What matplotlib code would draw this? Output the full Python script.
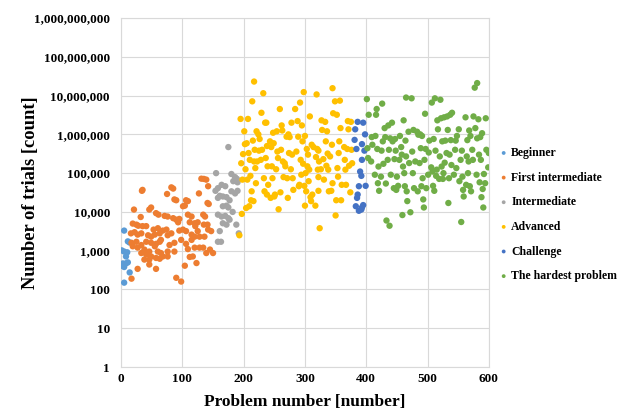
import matplotlib
matplotlib.use("Agg")
import matplotlib.pyplot as plt
from matplotlib.ticker import FuncFormatter, LogLocator, NullLocator

# ---- data: (problem number, number of trials) ----
beginner_x = [5, 11, 14, 1, 5, 10, 8, 3, 8, 11, 1, 5, 14, 5]
beginner_y = [3300, 1740, 1620, 1020, 950, 910, 710, 470, 470, 500, 410, 380, 275, 150]

first_x = [35, 34, 82, 85, 75, 87, 90, 106, 109, 101, 104, 131, 135, 139, 142, 127, 141, 143,
           49, 46, 21, 57, 61, 71, 76, 90, 95, 93, 85, 109, 115, 112, 120, 125, 121, 134, 137,
           135, 141, 19, 25, 28, 35, 41, 32, 53, 60, 68, 74, 16, 22, 27, 33, 44, 49, 55, 63, 65,
           76, 82, 95, 101, 106, 115, 120, 125, 142, 147, 17, 25, 33, 41, 49, 57, 63, 79, 87, 98,
           106, 115, 128, 136, 19, 27, 38, 46, 55, 60, 65, 76, 87, 109, 120, 128, 134, 139, 145,
           33, 41, 49, 57, 68, 76, 38, 46, 63, 112, 117, 123, 150, 27, 46, 57, 104, 17, 90, 98]
first_y = [37000, 35000, 43000, 40000, 29000, 21000, 20000, 20000, 19000, 14000, 14500, 72000,
           71000, 68000, 46000, 30000, 17000, 16000, 13000, 11500, 11500, 9300, 8500, 7900, 7600,
           6300, 6600, 5400, 6900, 8500, 7600, 5400, 5100, 5400, 4300, 8500, 7600, 4700, 4700,
           5000, 4700, 4400, 4300, 4300, 7400, 3500, 3800, 3300, 3500, 2800, 3000, 2600, 2800,
           2500, 2300, 2600, 2800, 1900, 2500, 2800, 3300, 3500, 3200, 2600, 2300, 3200, 3500,
           3200, 1600, 1700, 1400, 1700, 1600, 1500, 1700, 1400, 1600, 1900, 1500, 1900, 2300,
           2300, 1300, 1200, 1070, 950, 1300, 950, 870, 950, 950, 1100, 1200, 1200, 1200, 870,
           1070, 870, 800, 710, 650, 710, 710, 590, 590, 620, 690, 710, 480, 870, 340, 440, 340,
           410, 190, 200, 160]

inter_x = [175, 155, 180, 186, 189, 183, 190, 164, 170, 158, 154, 180, 186, 190, 161, 158, 166,
           172, 177, 166, 172, 175, 182, 158, 164, 170, 175, 166, 172, 177, 188, 161, 158, 163, 192]
inter_y = [470000, 100000, 95000, 79000, 71000, 62000, 58000, 50000, 46000, 41000, 35000, 34000,
           30000, 35000, 26000, 23000, 25000, 24000, 20000, 14000, 14500, 13000, 10000, 8500, 7600,
           7900, 6900, 5100, 4700, 6300, 4700, 3200, 1700, 1700, 2800]

adv_x = [217, 232, 214, 298, 319, 345, 349, 357, 292, 259, 284, 229, 308, 346, 352, 327, 333, 195,
         207, 235, 237, 262, 278, 288, 295, 370, 375, 201, 221, 224, 248, 254, 263, 273, 289, 300,
         328, 336, 358, 371, 205, 202, 215, 226, 243, 249, 238, 245, 275, 270, 296, 311, 314, 320,
         322, 334, 344, 356, 364, 369, 376, 199, 208, 218, 225, 230, 255, 261, 274, 279, 286, 303,
         305, 318, 337, 341, 355, 196, 210, 217, 222, 228, 236, 256, 264, 267, 293, 297, 304, 323,
         330, 335, 365, 372, 377, 203, 219, 239, 246, 253, 268, 277, 294, 301, 307, 321, 326, 338,
         353, 354, 366, 211, 206, 198, 220, 233, 240, 247, 265, 271, 280, 290, 299, 306, 322, 331,
         345, 367, 213, 234, 238, 250, 260, 281, 291, 302, 312, 322, 339, 343, 360, 212, 216, 204,
         209, 251, 244, 272, 309, 310, 351, 359, 374, 257, 300, 317, 197, 350, 193, 324]
adv_y = [23000000, 11500000, 7100000, 12300000, 10700000, 15500000, 7100000, 7400000, 6600000,
         4500000, 4500000, 3600000, 2900000, 3500000, 3200000, 2300000, 2100000, 2500000, 2500000,
         2000000, 2000000, 1700000, 2000000, 2200000, 1700000, 2200000, 2100000, 1200000, 1200000,
         1000000, 1100000, 1200000, 1260000, 1000000, 870000, 910000, 1300000, 1200000, 1450000,
         1350000, 590000, 560000, 690000, 760000, 660000, 590000, 500000, 470000, 850000, 870000,
         660000, 540000, 470000, 420000, 380000, 660000, 540000, 660000, 470000, 420000, 400000,
         310000, 330000, 400000, 380000, 400000, 360000, 400000, 330000, 300000, 360000, 420000,
         300000, 260000, 320000, 270000, 330000, 180000, 220000, 200000, 200000, 220000, 245000,
         245000, 200000, 180000, 220000, 175000, 150000, 200000, 230000, 155000, 220000, 155000,
         180000, 126000, 135000, 150000, 150000, 126000, 150000, 126000, 91000, 100000, 123000,
         123000, 126000, 123000, 135000, 81000, 123000, 85000, 68000, 68000, 55000, 74000, 50000,
         74000, 79000, 74000, 74000, 46000, 47000, 62000, 79000, 68000, 55000, 50000, 34000, 34000,
         28000, 25000, 32000, 37000, 50000, 34000, 28000, 35000, 34000, 35000, 50000, 20000, 19000,
         12600, 14000, 28000, 23000, 23000, 24000, 19000, 20000, 20000, 32000, 11700, 14500, 14500,
         8900, 8100, 2500, 3800]

chal_x = [386, 395, 382, 398, 381, 393, 384, 397, 393, 390, 392, 388, 399, 386, 385, 395, 393,
          383, 392, 388]
chal_y = [2100000, 2000000, 1350000, 1000000, 720000, 560000, 420000, 380000, 220000, 110000,
          85000, 46000, 47000, 28000, 23000, 15000, 13000, 14000, 11500, 10700]

hard_x = [401, 426, 417, 416, 404, 465, 474, 507, 512, 521, 577, 581, 442, 436, 430, 461, 496,
          516, 522, 527, 532, 537, 540, 562, 575, 583, 595, 469, 477, 483, 488, 517, 533, 551, 568,
          578, 589, 409, 415, 427, 431, 439, 443, 447, 455, 457, 464, 485, 491, 503, 510, 524, 529,
          538, 546, 548, 565, 570, 581, 586, 402, 410, 418, 425, 437, 448, 458, 465, 475, 489, 497,
          502, 513, 520, 531, 536, 545, 556, 564, 573, 584, 596, 600, 403, 408, 420, 428, 435, 446,
          454, 460, 470, 480, 487, 495, 506, 515, 523, 528, 539, 547, 554, 567, 574, 587, 599, 414,
          424, 440, 450, 462, 476, 492, 501, 508, 514, 526, 535, 543, 557, 566, 580, 592, 419, 432,
          445, 452, 463, 478, 490, 509, 519, 525, 552, 563, 569, 585, 594, 421, 449, 466, 484, 498,
          511, 558, 571, 590, 467, 493, 534, 559, 588, 472, 459, 494, 591, 433, 438, 555]
hard_y = [8100000, 6200000, 4500000, 3200000, 3200000, 8900000, 8500000, 6600000, 8500000,
          7800000, 16000000, 21000000, 2000000, 1700000, 1450000, 2300000, 3400000, 2300000,
          2600000, 2750000, 2900000, 3200000, 3600000, 2750000, 2900000, 2450000, 2600000,
          1170000, 1300000, 1170000, 1000000, 1350000, 1300000, 1350000, 1260000, 1450000,
          1070000, 850000, 910000, 660000, 850000, 790000, 660000, 760000, 910000, 470000, 690000,
          980000, 910000, 690000, 760000, 660000, 690000, 710000, 690000, 910000, 710000, 910000,
          790000, 850000, 440000, 540000, 420000, 380000, 400000, 380000, 300000, 270000, 360000,
          440000, 420000, 340000, 380000, 270000, 330000, 300000, 400000, 380000, 270000, 400000,
          300000, 400000, 330000, 245000, 200000, 148000, 174000, 220000, 230000, 220000, 148000,
          182000, 200000, 182000, 220000, 141000, 123000, 148000, 186000, 162000, 135000, 220000,
          200000, 220000, 220000, 141000, 91000, 81000, 91000, 81000, 100000, 100000, 74000, 91000,
          110000, 85000, 100000, 74000, 91000, 81000, 100000, 91000, 95000, 55000, 54000, 41000,
          47000, 46000, 41000, 46000, 47000, 71000, 71000, 62000, 50000, 46000, 58000, 55000,
          35000, 37000, 34000, 34000, 41000, 35000, 37000, 34000, 39000, 19000, 21000, 17000,
          25000, 24000, 9800, 8300, 13000, 13000, 6000, 4400, 5500]

series = [
    ("Beginner", beginner_x, beginner_y, "#5B9BD5"),
    ("First intermediate", first_x, first_y, "#ED7D31"),
    ("Intermediate", inter_x, inter_y, "#A5A5A5"),
    ("Advanced", adv_x, adv_y, "#FFC000"),
    ("Challenge", chal_x, chal_y, "#4472C4"),
    ("The hardest problem", hard_x, hard_y, "#70AD47"),
]

plt.rcParams['font.family'] = ['Liberation Serif', 'DejaVu Serif']

fig = plt.figure(figsize=(6.34, 4.19), dpi=100)
ax = fig.add_axes([0.191, 0.124, 0.580, 0.833])

for name, xs, ys, col in series:
    ax.scatter(xs, ys, s=21, color=col, edgecolors='none', label=name, zorder=3)

ax.set_yscale('log')
ax.set_xlim(0, 600)
ax.set_ylim(1, 1e9)
ax.set_xticks(range(0, 601, 100))
ax.yaxis.set_major_locator(LogLocator(base=10, numticks=20))
ax.yaxis.set_minor_locator(NullLocator())
ax.yaxis.set_major_formatter(FuncFormatter(lambda v, p: f"{int(round(v)):,}"))

ax.grid(True, color='#D9D9D9', linewidth=0.8, zorder=0)
for s in ax.spines.values():
    s.set_color('#D9D9D9')
    s.set_linewidth(0.8)
ax.tick_params(axis='both', length=0, labelsize=9.5)
ax.tick_params(axis='y', pad=8)
ax.tick_params(axis='x', pad=4.5)
for lab in ax.get_xticklabels() + ax.get_yticklabels():
    lab.set_fontweight('bold')

ax.set_xlabel("Problem number [number]", fontsize=12.5, fontweight='bold', labelpad=6.5)
ax.set_ylabel("Number of trials [count]", fontsize=13.3, fontweight='bold')
ax.yaxis.set_label_coords(-0.224, 0.5)

leg = fig.legend(loc='upper left', bbox_to_anchor=(0.787, 0.649), frameon=False,
                 markerscale=0.6, handlelength=0.8, handletextpad=0.25, labelspacing=1.07,
                 prop={'weight': 'bold', 'size': 8.5}, borderaxespad=0, borderpad=0)

fig.savefig("out.png", dpi=100)
